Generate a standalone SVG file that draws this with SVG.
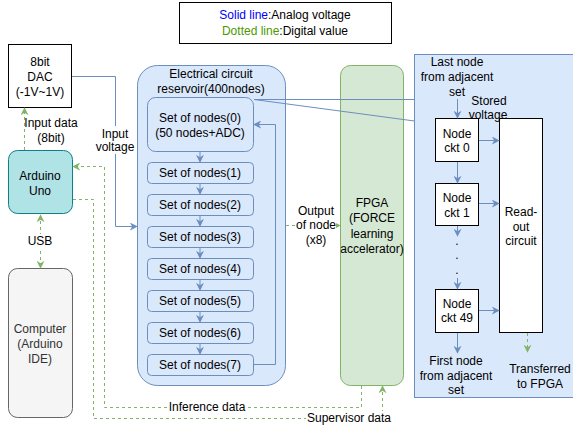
<svg xmlns="http://www.w3.org/2000/svg" width="573" height="428" viewBox="0 0 573 428">
<style>
text{font-family:"Liberation Sans",Arial,Helvetica,sans-serif;font-size:12px;fill:#000;text-anchor:middle}
.blue{fill:#dae8fc;stroke:#6c8ebf;stroke-width:1}
.wbox{fill:#fff;stroke:#000;stroke-width:1}
.bl{fill:none;stroke:#6c8ebf;stroke-width:1}
.gl{fill:none;stroke:#82b366;stroke-width:1;stroke-dasharray:3 3}
.lbl{fill:#fff;stroke:none}
</style>
<defs>
<marker id="ab" viewBox="0 0 10 10" refX="9" refY="5" markerWidth="8" markerHeight="8" markerUnits="userSpaceOnUse" orient="auto-start-reverse">
<path d="M0,0 L10,5 L0,10 L3,5 Z" fill="#6c8ebf"/>
</marker>
<marker id="ag" viewBox="0 0 10 10" refX="9" refY="5" markerWidth="8" markerHeight="8" markerUnits="userSpaceOnUse" orient="auto-start-reverse">
<path d="M0,0 L10,5 L0,10 L3,5 Z" fill="#82b366"/>
</marker>
</defs>
<rect width="573" height="428" fill="#fff"/>

<g id="legend">
<rect x="179.5" y="2.5" width="212" height="41" class="wbox"/>
<text x="285" y="19"><tspan fill="#0000ff">Solid line</tspan>:Analog voltage</text>
<text x="285" y="35"><tspan fill="#4d9900">Dotted line</tspan>:Digital value</text>
</g>

<g id="panel">
<rect x="414.5" y="54.5" width="170" height="343" class="blue"/>
</g>

<g id="reservoir">
<rect x="137.5" y="65.5" width="148" height="320" rx="20" class="blue"/>
<text x="211" y="78">Electrical circuit</text>
<text x="211" y="93">reservoir(400nodes)</text>
</g>

<g id="fpga">
<rect x="340.5" y="65.5" width="63" height="320" rx="10" fill="#d5e8d4" stroke="#82b366"/>
<text x="372" y="207">FPGA</text>
<text x="372" y="222">(FORCE</text>
<text x="372" y="238">learning</text>
<text x="372" y="253">accelerator)</text>
</g>

<g id="callout">
<polyline points="254,99.5 414.5,99.5 414.5,121" class="bl"/>
<line x1="254" y1="99.5" x2="414.5" y2="121" class="bl"/>
</g>

<g id="set0"><rect x="147.5" y="97.5" width="106" height="54" rx="8" class="blue"/><text x="200" y="122">Set of nodes(0)</text><text x="200" y="137">(50 nodes+ADC)</text></g>
<g id="set1"><rect x="147.5" y="162.5" width="106" height="21" rx="4" class="blue"/><text x="200" y="177">Set of nodes(1)</text></g>
<g id="set2"><rect x="147.5" y="194.5" width="106" height="21" rx="4" class="blue"/><text x="200" y="209">Set of nodes(2)</text></g>
<g id="set3"><rect x="147.5" y="226.5" width="106" height="21" rx="4" class="blue"/><text x="200" y="241">Set of nodes(3)</text></g>
<g id="set4"><rect x="147.5" y="258.5" width="106" height="21" rx="4" class="blue"/><text x="200" y="273">Set of nodes(4)</text></g>
<g id="set5"><rect x="147.5" y="290.5" width="106" height="21" rx="4" class="blue"/><text x="200" y="305">Set of nodes(5)</text></g>
<g id="set6"><rect x="147.5" y="322.5" width="106" height="21" rx="4" class="blue"/><text x="200" y="337">Set of nodes(6)</text></g>
<g id="set7"><rect x="147.5" y="354.5" width="106" height="21" rx="4" class="blue"/><text x="200" y="369">Set of nodes(7)</text></g>

<g id="dac"><rect x="8.5" y="44.5" width="63" height="63" class="wbox"/><text x="40" y="66">8bit</text><text x="40" y="81">DAC</text><text x="40" y="96">(-1V~1V)</text></g>
<g id="arduino"><rect x="8.5" y="150.5" width="64" height="63" rx="9" fill="#b0e3e6" stroke="#0e8088"/><text x="40" y="180">Arduino</text><text x="40" y="195">Uno</text></g>
<g id="computer"><rect x="8.5" y="268.5" width="64" height="149" rx="9" fill="#f5f5f5" stroke="#666"/><text x="40" y="333" style="fill:#333">Computer</text><text x="40" y="348" style="fill:#333">(Arduino</text><text x="40" y="363" style="fill:#333">IDE)</text></g>

<g id="nodeckt0"><rect x="435.5" y="118.5" width="43" height="43" class="wbox"/><text x="457" y="138">Node</text><text x="457" y="152">ckt 0</text></g>
<g id="nodeckt1"><rect x="435.5" y="183.5" width="43" height="42" class="wbox"/><text x="457" y="202">Node</text><text x="457" y="217">ckt 1</text></g>
<g id="nodeckt49"><rect x="435.5" y="289.5" width="43" height="43" class="wbox"/><text x="457" y="308">Node</text><text x="457" y="322">ckt 49</text></g>
<g id="readout"><rect x="499.5" y="118.5" width="43" height="214" class="wbox"/><text x="521" y="216">Read-</text><text x="521" y="231">out</text><text x="521" y="245">circuit</text></g>

<g id="panel-texts">
<text x="457" y="66">Last node</text>
<text x="457" y="81">from adjacent</text>
<text x="457" y="96">set</text>
<text x="489" y="105">Stored</text>
<text x="488" y="119">voltage</text>
<text x="457" y="245">.</text>
<text x="457" y="259">.</text>
<text x="457" y="274">.</text>
<text x="456" y="365">First node</text>
<text x="456" y="380">from adjacent</text>
<text x="456" y="394">set</text>
<text x="540" y="373">Transferred</text>
<text x="540" y="388">to FPGA</text>
</g>

<g id="connectors">
<!-- set chain -->
<line x1="200" y1="152" x2="200" y2="162" class="bl" marker-end="url(#ab)"/>
<line x1="200" y1="184" x2="200" y2="194" class="bl" marker-end="url(#ab)"/>
<line x1="200" y1="216" x2="200" y2="226" class="bl" marker-end="url(#ab)"/>
<line x1="200" y1="248" x2="200" y2="258" class="bl" marker-end="url(#ab)"/>
<line x1="200" y1="280" x2="200" y2="290" class="bl" marker-end="url(#ab)"/>
<line x1="200" y1="312" x2="200" y2="322" class="bl" marker-end="url(#ab)"/>
<line x1="200" y1="344" x2="200" y2="354" class="bl" marker-end="url(#ab)"/>
<polyline points="254,364.5 275.5,364.5 275.5,124.5 254,124.5" class="bl" marker-end="url(#ab)"/>
<!-- input voltage -->
<polyline points="72,76.5 115.5,76.5 115.5,226.5 137,226.5" class="bl" marker-end="url(#ab)"/>
<rect x="100" y="126" width="31" height="28" class="lbl"/>
<text x="115" y="138">Input</text>
<text x="115" y="151">voltage</text>
<!-- panel arrows -->
<line x1="457.5" y1="99" x2="457.5" y2="118" class="bl" marker-end="url(#ab)"/>
<line x1="457.5" y1="162" x2="457.5" y2="183" class="bl" marker-end="url(#ab)"/>
<line x1="457.5" y1="226" x2="457.5" y2="236" class="bl" marker-end="url(#ab)"/>
<line x1="457.5" y1="278" x2="457.5" y2="289" class="bl" marker-end="url(#ab)"/>
<line x1="457.5" y1="333" x2="457.5" y2="353" class="bl" marker-end="url(#ab)"/>
<line x1="479" y1="140.5" x2="499" y2="140.5" class="bl" marker-end="url(#ab)"/>
<line x1="479" y1="203.5" x2="499" y2="203.5" class="bl" marker-end="url(#ab)"/>
<line x1="479" y1="310.5" x2="499" y2="310.5" class="bl" marker-end="url(#ab)"/>
<line x1="527.5" y1="333" x2="527.5" y2="352" class="gl" marker-end="url(#ag)"/>
<!-- green digital -->
<line x1="24.5" y1="150" x2="24.5" y2="108" class="gl" marker-end="url(#ag)"/>
<text x="51" y="127">Input data</text>
<text x="51" y="142">(8bit)</text>
<line x1="40.5" y1="215" x2="40.5" y2="268" class="gl" marker-start="url(#ag)" marker-end="url(#ag)"/>
<rect x="26" y="234" width="29" height="14" class="lbl"/>
<text x="40" y="245">USB</text>
<polyline points="361.5,386 361.5,407.5 104.5,407.5 104.5,166.5 73,166.5" class="gl" marker-end="url(#ag)"/>
<rect x="169" y="400" width="77" height="14" class="lbl"/>
<text x="207" y="411">Inference data</text>
<polyline points="73,199.5 93.5,199.5 93.5,418.5 382.5,418.5 382.5,386" class="gl" marker-end="url(#ag)"/>
<rect x="306" y="411" width="86" height="15" class="lbl"/>
<text x="349" y="422">Supervisor data</text>
<line x1="286" y1="225.5" x2="340" y2="225.5" class="gl" marker-end="url(#ag)"/>
<rect x="296" y="203" width="40" height="43" class="lbl"/>
<text x="316" y="215">Output</text>
<text x="316" y="229">of node</text>
<text x="316" y="244">(x8)</text>
</g>
</svg>
